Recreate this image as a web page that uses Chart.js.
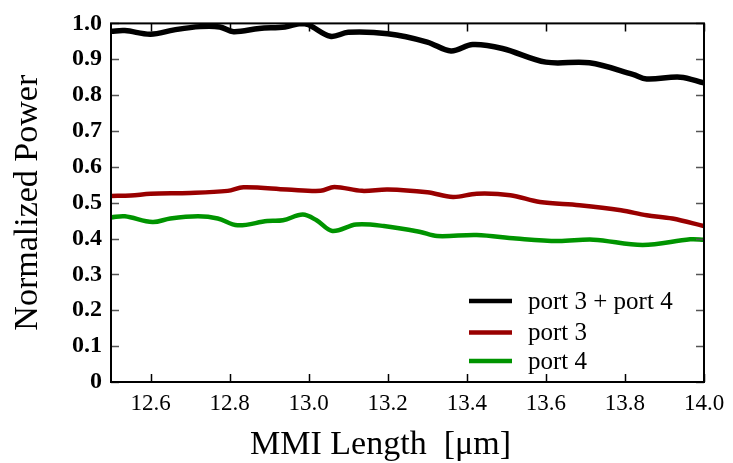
<!DOCTYPE html>
<html>
<head>
<meta charset="utf-8">
<title>MMI Length sweep</title>
<script src="https://cdn.jsdelivr.net/npm/chart.js@4/dist/chart.umd.min.js"></script>
<style>
    html, body { margin: 0; padding: 0; background: #fff; }
    canvas { display: block; }
</style>
</head>
<body>
<canvas id="mmiChart" width="733" height="463"></canvas>
<script>
// MMI length [um] sample positions and normalized output power per port
const sumLength = [12.50, 12.535, 12.60, 12.66, 12.725, 12.775, 12.81, 12.875, 12.94, 12.98, 13.00,
    13.055, 13.10, 13.20, 13.30, 13.36, 13.415, 13.49, 13.60, 13.71, 13.82, 13.855, 13.94, 14.00];
const sumPower = [0.978, 0.980, 0.970, 0.982, 0.991, 0.990, 0.977, 0.986, 0.990, 1.000, 0.996,
    0.964, 0.975, 0.971, 0.948, 0.923, 0.941, 0.930, 0.892, 0.890, 0.858, 0.845, 0.850, 0.834];

const port3Length = [12.50, 12.55, 12.60, 12.70, 12.795, 12.835, 12.945, 13.03, 13.065, 13.135, 13.20,
    13.30, 13.365, 13.425, 13.51, 13.585, 13.685, 13.79, 13.855, 13.92, 14.00];
const port3Power = [0.519, 0.520, 0.525, 0.527, 0.533, 0.543, 0.537, 0.533, 0.544, 0.533, 0.537,
    0.529, 0.516, 0.525, 0.521, 0.502, 0.493, 0.479, 0.465, 0.456, 0.435];

const port4Length = [12.50, 12.535, 12.605, 12.65, 12.72, 12.77, 12.82, 12.895, 12.935, 12.985, 13.02,
    13.06, 13.12, 13.19, 13.28, 13.325, 13.425, 13.525, 13.63, 13.72, 13.845, 13.965, 14.00];
const port4Power = [0.459, 0.462, 0.446, 0.456, 0.462, 0.456, 0.437, 0.449, 0.451, 0.467, 0.451,
    0.421, 0.439, 0.435, 0.419, 0.407, 0.410, 0.400, 0.393, 0.397, 0.382, 0.398, 0.397];

const xTicks = [12.6, 12.8, 13.0, 13.2, 13.4, 13.6, 13.8, 14.0];
const yTicks = [0, 0.1, 0.2, 0.3, 0.4, 0.5, 0.6, 0.7, 0.8, 0.9, 1.0];

const seriesNames = ['port 3 + port 4', 'port 3', 'port 4'];
const seriesColors = ['#000000', '#990000', '#009400'];
const xTitle = 'MMI Length  [μm]';

const serif = '"Liberation Serif", "DejaVu Serif", serif';

function toPoints(xs, ys) {
    return xs.map((x, i) => ({ x: x, y: ys[i] }));
}

function makeSeries(name, color, xs, ys, width) {
    return {
        label: name,
        data: toPoints(xs, ys),
        borderColor: color,
        backgroundColor: color,
        borderWidth: width,
        pointRadius: 0,
        tension: 0.35,
        borderCapStyle: 'round',
        borderJoinStyle: 'round'
    };
}

// Frame around the plot with inward tick marks on all four sides
const frameTicks = {
    id: 'frameTicks',
    afterDatasetsDraw(chart) {
        const { ctx, chartArea: a, scales } = chart;
        const len = 8;
        ctx.save();
        ctx.lineWidth = 1.5;
        ctx.strokeStyle = '#000';
        xTicks.forEach(v => {
            const px = Math.round(scales.x.getPixelForValue(v)) + 0.5;
            ctx.beginPath();
            ctx.moveTo(px, a.bottom); ctx.lineTo(px, a.bottom - len);
            ctx.moveTo(px, a.top); ctx.lineTo(px, a.top + len);
            ctx.stroke();
        });
        ctx.strokeStyle = '#555';
        yTicks.forEach(v => {
            const py = Math.round(scales.y.getPixelForValue(v)) + 0.5;
            ctx.beginPath();
            ctx.moveTo(a.left, py); ctx.lineTo(a.left + len, py);
            ctx.moveTo(a.right, py); ctx.lineTo(a.right - len, py);
            ctx.stroke();
        });
        ctx.lineWidth = 2;
        ctx.strokeStyle = '#000';
        ctx.strokeRect(a.left, a.top, a.right - a.left, a.bottom - a.top);
        ctx.restore();
    }
};

// Legend inside the plot (lower right) and the x axis title, a bit left of centre
const innerLegend = {
    id: 'innerLegend',
    afterDraw(chart) {
        const { ctx, chartArea: a } = chart;
        const x0 = a.right - 235;
        const rowY = [a.bottom - 81, a.bottom - 49.5, a.bottom - 21];
        ctx.save();
        ctx.font = '25px ' + serif;
        ctx.textBaseline = 'middle';
        ctx.fillStyle = '#000';
        chart.data.datasets.forEach((ds, i) => {
            const y = rowY[i];
            ctx.strokeStyle = ds.borderColor;
            ctx.lineWidth = 4.5;
            ctx.beginPath();
            ctx.moveTo(x0, y);
            ctx.lineTo(x0 + 43, y);
            ctx.stroke();
            ctx.fillText(ds.label, x0 + 59, y + 1);
        });

        ctx.font = '34px ' + serif;
        ctx.textAlign = 'center';
        ctx.textBaseline = 'alphabetic';
        ctx.fillText(xTitle, (a.left + a.right) / 2 - 27, a.bottom + 72);
        ctx.restore();
    }
};

const datasets = [
    makeSeries(seriesNames[0], seriesColors[0], sumLength, sumPower, 5.5),
    makeSeries(seriesNames[1], seriesColors[1], port3Length, port3Power, 4.5),
    makeSeries(seriesNames[2], seriesColors[2], port4Length, port4Power, 4.5)
];

new Chart(document.getElementById('mmiChart'), {
    type: 'line',
    data: { datasets: datasets },
    options: {
        responsive: false,
        animation: false,
        layout: { padding: { top: 23, right: 29, left: 0, bottom: 0 } },
        plugins: {
            legend: { display: false },
            tooltip: { enabled: false }
        },
        scales: {
            x: {
                type: 'linear',
                min: 12.5,
                max: 14.0,
                afterFit(scale) { scale.height = 81; },
                afterBuildTicks(scale) { scale.ticks = xTicks.map(v => ({ value: v })); },
                grid: { display: false, drawTicks: false },
                border: { display: false },
                ticks: {
                    color: '#000',
                    padding: 8,
                    maxRotation: 0,
                    autoSkip: false,
                    font: { family: serif, size: 23 },
                    callback: v => v.toFixed(1)
                }
            },
            y: {
                min: 0,
                max: 1.0,
                afterFit(scale) { scale.width = 111; },
                afterBuildTicks(scale) { scale.ticks = yTicks.map(v => ({ value: v })); },
                grid: { display: false, drawTicks: false },
                border: { display: false },
                ticks: {
                    color: '#000',
                    padding: 9,
                    autoSkip: false,
                    font: { family: serif, size: 24, weight: 'bold' },
                    callback: v => (v === 0 ? '0' : v.toFixed(1))
                },
                title: {
                    display: true,
                    text: 'Normalized Power',
                    color: '#000',
                    font: { family: serif, size: 34 },
                    padding: { top: 8, bottom: 0 }
                }
            }
        }
    },
    plugins: [frameTicks, innerLegend]
});
</script>
</body>
</html>
